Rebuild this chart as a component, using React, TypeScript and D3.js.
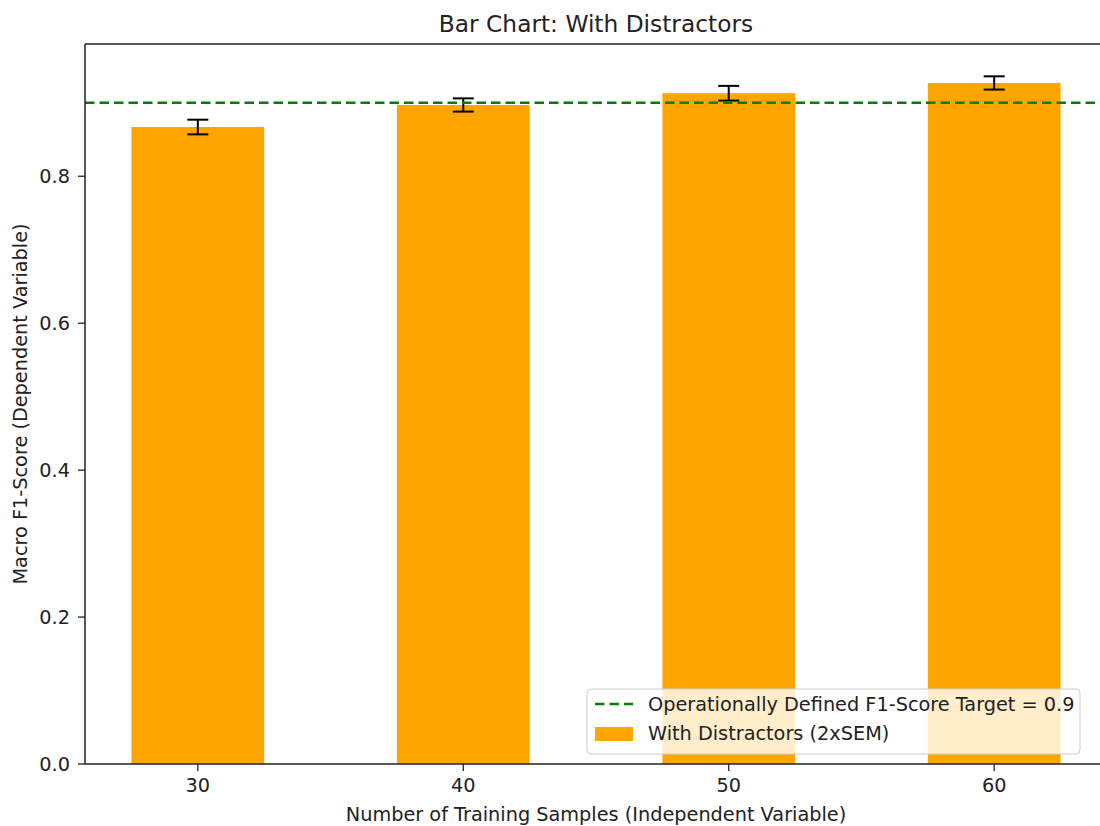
import React from "react";
import * as d3 from "d3";

const categories = ["30", "40", "50", "60"];
const values = [0.867, 0.897, 0.913, 0.927];
const errors = [0.010, 0.009, 0.010, 0.009];
const yTicks = [0.0, 0.2, 0.4, 0.6, 0.8];
const target = 0.9;
const title = "Bar Chart: With Distractors";
const xLabel = "Number of Training Samples (Independent Variable)";
const yLabel = "Macro F1-Score (Dependent Variable)";
const legendLine = "Operationally Defined F1-Score Target = 0.9";
const legendBar = "With Distractors (2xSEM)";

export default function App() {
  const W = 1100, H = 826;
  const left = 85, right = 1107, top = 44, bottom = 764;
  const font = "'DejaVu Sans', sans-serif";
  const fs = 19.3;
  const x = d3.scaleLinear().domain([-0.425, 3.425]).range([left, right]);
  const y = d3.scaleLinear().domain([0, 0.98]).range([bottom, top]);
  const bw = x(0.25) - x(-0.25);
  return (
    <svg width={W} height={H} style={{ position: "absolute", left: 0, top: 0, background: "#fff" }}>
      <defs>
        <clipPath id="ax"><rect x={left} y={top} width={right - left} height={bottom - top} /></clipPath>
      </defs>
      <g clipPath="url(#ax)">
        {values.map((v, i) => (
          <rect key={i} x={x(i) - bw / 2} y={y(v)} width={bw} height={y(0) - y(v)} fill="#FFA500" />
        ))}
        {values.map((v, i) => (
          <g key={"e" + i} stroke="#000" strokeWidth={2}>
            <line x1={x(i)} x2={x(i)} y1={y(v - errors[i])} y2={y(v + errors[i])} />
            <line x1={x(i) - 10.5} x2={x(i) + 10.5} y1={y(v - errors[i])} y2={y(v - errors[i])} />
            <line x1={x(i) - 10.5} x2={x(i) + 10.5} y1={y(v + errors[i])} y2={y(v + errors[i])} />
          </g>
        ))}
        <line x1={left} x2={right} y1={y(target)} y2={y(target)} stroke="#008000" strokeWidth={2.6} strokeDasharray="9.5,5" />
      </g>
      {/* spines */}
      <g stroke="#222" strokeWidth={1.5} fill="none">
        <line x1={left} x2={left} y1={top} y2={bottom} />
        <line x1={left} x2={right} y1={bottom} y2={bottom} />
        <line x1={left} x2={right} y1={top} y2={top} />
        <line x1={right} x2={right} y1={top} y2={bottom} />
      </g>
      {/* y ticks */}
      {yTicks.map((t) => (
        <g key={t}>
          <line x1={left - 7} x2={left} y1={y(t)} y2={y(t)} stroke="#222" strokeWidth={1.3} />
          <text x={left - 15} y={y(t)} dy="0.35em" textAnchor="end" fontFamily={font} fontSize={fs} fill="#222">{t.toFixed(1)}</text>
        </g>
      ))}
      {/* x ticks */}
      {categories.map((c, i) => (
        <g key={c}>
          <line x1={x(i)} x2={x(i)} y1={bottom} y2={bottom + 7} stroke="#222" strokeWidth={1.3} />
          <text x={x(i)} y={792} textAnchor="middle" fontFamily={font} fontSize={fs} fill="#222">{c}</text>
        </g>
      ))}
      <text x={(left + right) / 2} y={32} textAnchor="middle" fontFamily={font} fontSize={23.3} fill="#222">{title}</text>
      <text x={(left + right) / 2} y={821} textAnchor="middle" fontFamily={font} fontSize={fs} fill="#222">{xLabel}</text>
      <text transform={`translate(27, ${(top + bottom) / 2}) rotate(-90)`} textAnchor="middle" fontFamily={font} fontSize={fs} fill="#222">{yLabel}</text>
      {/* legend */}
      <g>
        <rect x={587} y={689} width={493} height={65} rx={4} fill="#fff" fillOpacity={0.8} stroke="#ccc" strokeWidth={1} />
        <line x1={595} x2={633} y1={704} y2={704} stroke="#008000" strokeWidth={2.6} strokeDasharray="9.5,5" />
        <text x={648} y={704} dy="0.35em" fontFamily={font} fontSize={fs} fill="#222">{legendLine}</text>
        <rect x={595} y={727} width={38} height={14} fill="#FFA500" />
        <text x={648} y={733} dy="0.35em" fontFamily={font} fontSize={fs} fill="#222">{legendBar}</text>
      </g>
    </svg>
  );
}
